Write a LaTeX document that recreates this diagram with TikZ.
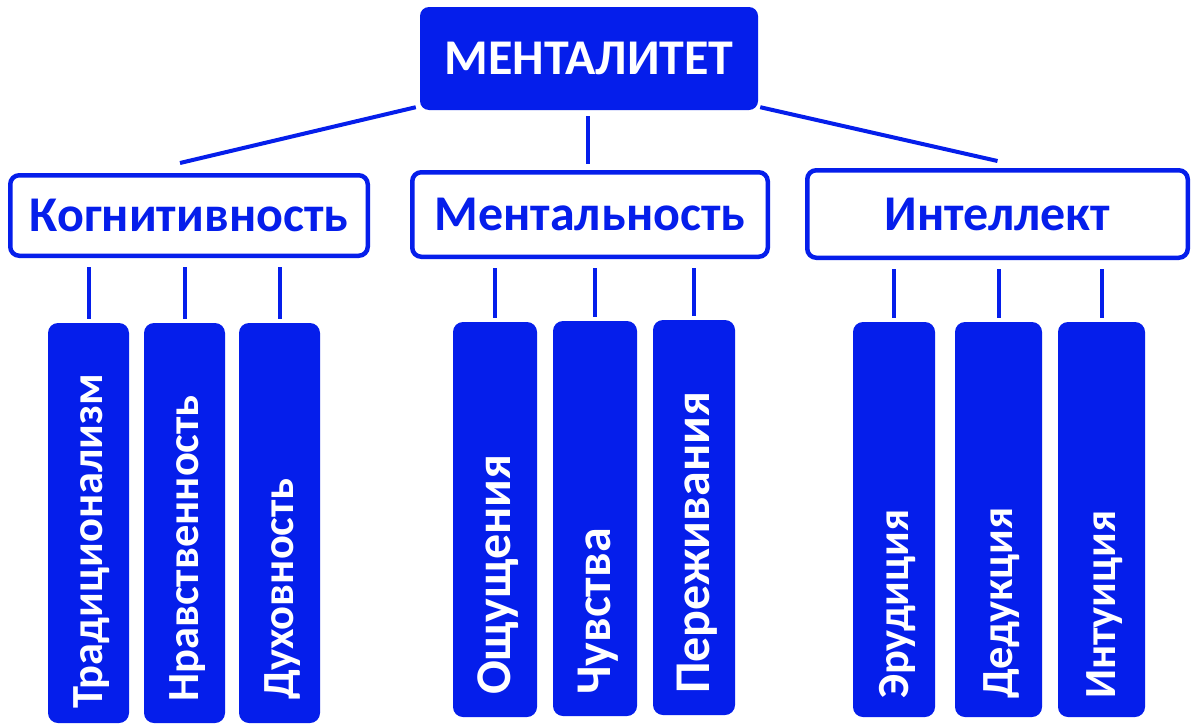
\documentclass[tikz,border=0pt]{standalone}
\usepackage{fontspec}
\setmainfont{Carlito}
\usetikzlibrary{calc}
\definecolor{mblue}{RGB}{5,30,235}
\begin{document}
\begin{tikzpicture}[x=1pt,y=-1pt,
  topbox/.style={fill=mblue, rounded corners=9pt, inner sep=0pt, text=white, font=\fontsize{50}{56}\selectfont\bfseries},
  catbox/.style={draw=mblue, line width=4.5pt, fill=white, rounded corners=9pt, inner sep=0pt, text=mblue, font=\fontsize{50}{56}\selectfont\bfseries},
  bar/.style={fill=mblue, rounded corners=10pt, inner sep=0pt},
  bartext/.style={rotate=90, anchor=base west, inner sep=0pt, text=white, font=\fontsize{44.5}{50}\selectfont\bfseries},
  bartextb/.style={bartext, font=\fontsize{50}{56}\selectfont\bfseries},
  conn/.style={draw=mblue, line width=4pt}]
\useasboundingbox[fill=white] (0,0) rectangle (1200,728);

% top
\node[topbox, minimum width=338pt, minimum height=103pt] (top) at (589,58.5) {МЕНТАЛИТЕТ};

% categories
\node[catbox, minimum width=357.5pt, minimum height=80.5pt] (kog) at (189,215.5) {Когнитивность};
\node[catbox, minimum width=355.5pt, minimum height=84.5pt] (ment) at (590,214.5) {Ментальность};
\node[catbox, minimum width=380.5pt, minimum height=87.5pt] (intl) at (997.5,214) {Интеллект};

% bars group 1
\node[bar, minimum width=81pt, minimum height=400pt] (b1) at (88.5,523) {};
\node[bar, minimum width=81pt, minimum height=400pt] (b2) at (184.5,523) {};
\node[bar, minimum width=81pt, minimum height=400pt] (b3) at (279.5,523) {};
% bars group 2
\node[bar, minimum width=84pt, minimum height=395pt] (b4) at (495,519.5) {};
\node[bar, minimum width=84pt, minimum height=395pt] (b5) at (595,518.5) {};
\node[bar, minimum width=82pt, minimum height=395pt] (b6) at (694,517.5) {};
% bars group 3
\node[bar, minimum width=82pt, minimum height=395pt] (b7) at (894,519.5) {};
\node[bar, minimum width=87pt, minimum height=395pt] (b8) at (998.5,519.5) {};
\node[bar, minimum width=87pt, minimum height=395pt] (b9) at (1101.5,519.5) {};

% bar texts
\node[bartext] (t1) at (102.5,709) {Традиционализм};
\node[bartext] (t2) at (198.5,702) {Нравственность};
\node[bartext] (t3) at (293.5,700) {Духовность};
\node[bartextb] (t4) at (510.5,695) {Ощущения};
\node[bartextb] (t5) at (610.5,695) {Чувства};
\node[bartextb] (t6) at (709.5,694) {Переживания};
\node[bartext] (t7) at (908,699) {Эрудиция};
\node[bartext] (t8) at (1012.5,699) {Дедукция};
\node[bartext] (t9) at (1115.5,699) {Интуиция};

% connectors top -> categories
\draw[conn] ([shift={(-4,-3)}]top.south west) -- ([shift={(-9,-10)}]kog.north);
\draw[conn] ([shift={(-1,6)}]top.south) -- ([shift={(-1,-6)}]top.south |- ment.north);
\draw[conn] ([shift={(2,-3)}]top.south east) -- ([shift={(0,-7)}]intl.north);

% connectors categories -> bars
\foreach \b/\c in {b1/kog,b2/kog,b3/kog,b4/ment,b5/ment,b6/ment,b7/intl,b8/intl,b9/intl}{
  \draw[conn] ([shift={(0,-4)}]\b.north) -- ([shift={(0,9)}]\b.north |- \c.south);
}
\end{tikzpicture}
\end{document}
